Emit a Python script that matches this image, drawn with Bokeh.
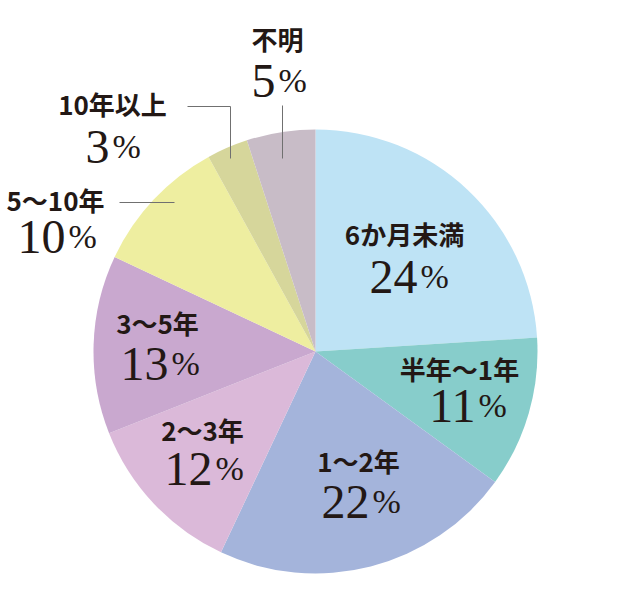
import numpy as np
from bokeh.plotting import figure
from bokeh.models import ColumnDataSource, Range1d
from bokeh.core.properties import value
from bokeh.embed import file_html
from bokeh.resources import INLINE

categories = ["6か月未満", "半年〜1年", "1〜2年", "2〜3年", "3〜5年", "5〜10年", "10年以上", "不明"]
percents = [24, 11, 22, 12, 13, 10, 3, 5]
colors = ["#bee3f5", "#87cdcb", "#a4b4db", "#dbb9d9", "#c9a8cf", "#eeeea0", "#d6d69b", "#c8bcc7"]

# where the labels sit, in page pixels (y counted from the top)
label_x = [404, 459, 358, 202, 157, 55, 112, 277]
label_y = [237, 372, 464, 433, 326, 203, 107, 42]
num_x = [408, 466, 360, 203, 159, 56, 112, 278]
num_base = [293, 422, 518, 485, 380, 253, 163, 97]

H = 601
CX, CY, R = 315, 351, 222
TEXT = "#231815"
# svg text sits a little low compared to the picture, pull it up
LABEL_NUDGE = 4
NUM_NUDGE = 17


def flip(v, nudge=0):
    return [H - a + nudge for a in v]


def main():
    p = figure(width=614, height=585, x_range=Range1d(0, 614), y_range=Range1d(16, 601),
               output_backend="svg", toolbar_location=None, min_border=0)
    p.axis.visible = False
    p.grid.visible = False
    p.outline_line_color = None
    p.background_fill_color = "white"

    frac = np.array(percents) / sum(percents)
    cum = np.cumsum(frac)
    start = np.pi / 2 - 2 * np.pi * (cum - frac)
    end = np.pi / 2 - 2 * np.pi * cum

    wedges = ColumnDataSource(data=dict(start=start, end=end, color=colors, cat=categories))
    p.wedge(x=CX, y=H - CY, radius=R, start_angle='start', end_angle='end', direction="clock",
            fill_color='color', line_color=None, source=wedges)

    # leader lines for the small slices
    p.line(x=[187, 230, 230], y=flip([106, 106, 158]), line_color="#707070", line_width=1)
    p.line(x=[119, 174], y=flip([202, 202]), line_color="#707070", line_width=1)
    p.line(x=[282, 282], y=flip([105, 158]), line_color="#707070", line_width=1)

    p.text(x=label_x, y=flip(label_y, LABEL_NUDGE), text=categories,
           text_font=value("Noto Sans CJK JP"), text_font_size="26px", text_font_style="bold",
           text_color=TEXT, text_align="center", text_baseline="middle")

    digits = [str(v) for v in percents]
    nd = np.array([len(d) for d in digits])
    dw, pw, gap = 24, 27, 3
    left = np.array(num_x) - (dw * nd + gap + pw) / 2
    split = left + dw * nd
    p.text(x=split, y=flip(num_base, NUM_NUDGE), text=digits,
           text_font=value("Liberation Serif"), text_font_size="48px",
           text_color=TEXT, text_align="right", text_baseline="alphabetic")
    p.text(x=split + gap, y=flip(num_base, NUM_NUDGE), text=["%"] * len(digits),
           text_font=value("Liberation Serif"), text_font_size="34px",
           text_color=TEXT, text_align="left", text_baseline="alphabetic")

    open("out.html", "w").write(file_html(p, INLINE))


if __name__ == "__main__":
    main()
